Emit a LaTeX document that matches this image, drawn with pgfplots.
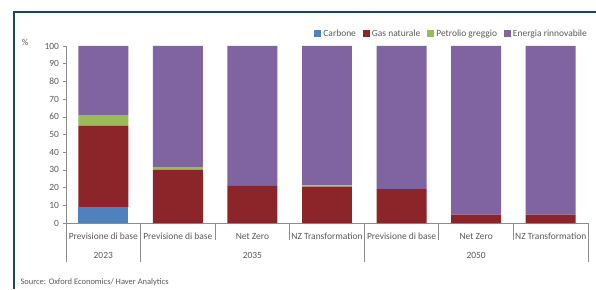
\documentclass[border=0pt]{standalone}
\usepackage{pgfplots}
\pgfplotsset{compat=1.18}
\usepackage{fontspec}
\setmainfont{Carlito}
\definecolor{carb}{HTML}{4F81BD}
\definecolor{gas}{HTML}{8B2529}
\definecolor{oil}{HTML}{9BBB59}
\definecolor{ren}{HTML}{8064A2}
\definecolor{frame}{HTML}{1D4757}
\definecolor{txt}{HTML}{595959}
\definecolor{axl}{HTML}{8C8C8C}
\pgfplotsset{sqleg/.style={legend image code/.code={\fill[##1] (0bp,-3.5bp) rectangle (7bp,3.5bp);}}}
\begin{document}
\begin{tikzpicture}[x=1bp,y=1bp]
\useasboundingbox (0,0) rectangle (596,289);
\draw[frame, line width=2.2bp] (14,0) -- (14,277) -- (597,277);
\node[anchor=west, txt, font=\fontsize{8.5}{9}\selectfont] at (17,7) {Source: Oxford Economics/ Haver Analytics};
\node[txt, font=\fontsize{9}{10}\selectfont] at (25,247) {\%};
\begin{axis}[
  at={(66bp,66bp)}, anchor=south west,
  scale only axis, width=522bp, height=177bp,
  xmin=-0.5, xmax=6.5, ymin=0, ymax=100,
  ytick={0,10,...,100},
  xtick={0,...,6},
  xticklabels={Previsione di base,Previsione di base,Net Zero,NZ Transformation,Previsione di base,Net Zero,NZ Transformation},
  clip=false,
  axis lines*=left,
  axis line style={axl, line width=0.8bp},
  ytick style={axl, line width=0.6bp},
  xtick style={draw=none},
  tick align=outside, major tick length=3.5bp,
  tick label style={txt, font=\fontsize{9.5}{11}\selectfont},
  /pgf/number format/assume math mode=true,
  xticklabel style={anchor=base, yshift=-13bp},
  ybar stacked, bar width=0.67,
  legend style={at={(1,1)}, anchor=south east, yshift=5bp, xshift=2bp, draw=none, fill=none,
    font=\fontsize{9.5}{11}\selectfont, text=txt, inner sep=1bp,
    /tikz/every even column/.append style={column sep=5bp}},
  legend columns=4,
  legend cell align=left,
]
\addplot[fill=carb, draw=none, sqleg] coordinates {(0,9) (1,0) (2,0) (3,0) (4,0) (5,0) (6,0)};
\addplot[fill=gas, draw=none, sqleg] coordinates {(0,46) (1,30) (2,21) (3,20.5) (4,19.2) (5,4.8) (6,4.8)};
\addplot[fill=oil, draw=none, sqleg] coordinates {(0,6) (1,1.5) (2,0) (3,0.8) (4,0) (5,0) (6,0)};
\addplot[fill=ren, draw=none, sqleg] coordinates {(0,39) (1,68.5) (2,79) (3,78.7) (4,80.8) (5,95.2) (6,95.2)};
\legend{Carbone,Gas naturale,Petrolio greggio,Energia rinnovabile}
\draw[axl, line width=0.8bp] (axis cs:-0.5,0) -- ([yshift=-39bp]axis cs:-0.5,0);
\draw[axl, line width=0.8bp] (axis cs:0.5,0) -- ([yshift=-39bp]axis cs:0.5,0);
\draw[axl, line width=0.8bp] (axis cs:3.5,0) -- ([yshift=-39bp]axis cs:3.5,0);
\draw[axl, line width=0.8bp] (axis cs:6.5,0) -- ([yshift=-39bp]axis cs:6.5,0);
\draw[axl, line width=0.8bp] (axis cs:1.5,0) -- ([yshift=-17bp]axis cs:1.5,0);
\draw[axl, line width=0.8bp] (axis cs:2.5,0) -- ([yshift=-17bp]axis cs:2.5,0);
\draw[axl, line width=0.8bp] (axis cs:4.5,0) -- ([yshift=-17bp]axis cs:4.5,0);
\draw[axl, line width=0.8bp] (axis cs:5.5,0) -- ([yshift=-17bp]axis cs:5.5,0);
\node[txt, font=\fontsize{9.5}{11}\selectfont, anchor=base] at ([yshift=-35bp]axis cs:0,0) {2023};
\node[txt, font=\fontsize{9.5}{11}\selectfont, anchor=base] at ([yshift=-35bp]axis cs:2,0) {2035};
\node[txt, font=\fontsize{9.5}{11}\selectfont, anchor=base] at ([yshift=-35bp]axis cs:5,0) {2050};
\end{axis}
\end{tikzpicture}
\end{document}
